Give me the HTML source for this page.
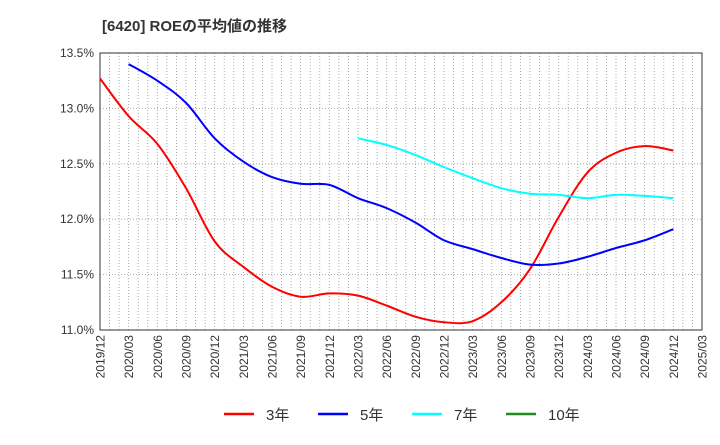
<!DOCTYPE html>
<html><head><meta charset="utf-8"><style>
body{margin:0;background:#fff;font-family:"Liberation Sans","Noto Sans CJK JP",sans-serif;}
svg text{font-family:"Liberation Sans","Noto Sans CJK JP",sans-serif;}
</style></head><body>
<svg id="c" width="720" height="440" xmlns="http://www.w3.org/2000/svg">
<text x="102" y="31" font-size="15" font-weight="bold" fill="#333">[6420]  ROEの平均値の推移</text>
<g id="grid"></g><g id="axes"></g><g id="series"></g><g id="legend"></g>
</svg>
<script>
const xLabels=["2019/12","2020/03","2020/06","2020/09","2020/12","2021/03","2021/06","2021/09","2021/12","2022/03","2022/06","2022/09","2022/12","2023/03","2023/06","2023/09","2023/12","2024/03","2024/06","2024/09","2024/12","2025/03"];
const yTicks=[11.0,11.5,12.0,12.5,13.0,13.5];
const s3=[13.27,12.93,12.68,12.28,11.80,11.57,11.39,11.30,11.33,11.31,11.22,11.12,11.07,11.08,11.25,11.55,12.02,12.42,12.60,12.66,12.62];
const s5=[null,13.40,13.25,13.05,12.73,12.52,12.38,12.32,12.31,12.19,12.10,11.97,11.81,11.73,11.65,11.59,11.60,11.66,11.74,11.81,11.91];
const s7=[null,null,null,null,null,null,null,null,null,12.73,12.67,12.58,12.47,12.37,12.28,12.23,12.22,12.19,12.22,12.21,12.19];
const s10=[];
const L=100,R=702,T=53,B=330;
const X=i=>L+(R-L)*i/21;
const Y=v=>B-(v-11)/2.5*(B-T);
const NS="http://www.w3.org/2000/svg";
function mk(tag,attrs,parent){const e=document.createElementNS(NS,tag);for(const k in attrs)e.setAttribute(k,attrs[k]);document.getElementById(parent).appendChild(e);return e;}
for(let m=1;m<63;m++){const x=L+(R-L)*m/63;const g=mk('line',{x1:x,x2:x,y1:T,y2:B,stroke:'#999','stroke-dasharray':'1,2','stroke-width':0.8},'grid');

}
yTicks.forEach(v=>{const y=Y(v);const g=mk('line',{x1:L,x2:R,y1:y,y2:y,stroke:'#999','stroke-dasharray':'1,2','stroke-width':0.8},'grid');


const t=mk('text',{x:L-6,y:y+4,'text-anchor':'end','font-size':12,fill:'#333'},'axes');t.textContent=v.toFixed(1)+'%';

});
const fr=mk('rect',{x:L,y:T,width:R-L,height:B-T,fill:'none',stroke:'#333'},'axes');


xLabels.forEach((s,i)=>{const x=X(i);const t=mk('text',{x:0,y:0,transform:`translate(${x+4.5},${B+5}) rotate(-90)`,'text-anchor':'end','font-size':12,fill:'#333'},'axes');t.textContent=s;

});
function path(arr){const pts=[];arr.forEach((v,i)=>{if(v!=null)pts.push([X(i),Y(v)]);});if(!pts.length)return'';
let d=`M${pts[0][0]},${pts[0][1]}`;
for(let i=0;i<pts.length-1;i++){const p0=pts[Math.max(0,i-1)],p1=pts[i],p2=pts[i+1],p3=pts[Math.min(pts.length-1,i+2)];
const c1=[p1[0]+(p2[0]-p0[0])/6,p1[1]+(p2[1]-p0[1])/6],c2=[p2[0]-(p3[0]-p1[0])/6,p2[1]-(p3[1]-p1[1])/6];
d+=`C${c1[0]},${c1[1]} ${c2[0]},${c2[1]} ${p2[0]},${p2[1]}`;}return d;}
[[s3,'#f00','series-3yr'],[s5,'#00f','series-5yr'],[s7,'#0ff','series-7yr'],[s10,'#228b22','series-10yr']].forEach(([a,c,n])=>{
const d=path(a);if(!d)return;const p=mk('path',{d:d,fill:'none',stroke:c,'stroke-width':2},'series');

});
[['3年','#f00',224],['5年','#00f',318],['7年','#0ff',412],['10年','#228b22',506]].forEach(([s,c,x])=>{
const g=mk('g',{},'legend');


const l=document.createElementNS(NS,'line');l.setAttribute('x1',x);l.setAttribute('x2',x+30);l.setAttribute('y1',414);l.setAttribute('y2',414);l.setAttribute('stroke',c);l.setAttribute('stroke-width',2.5);g.appendChild(l);
const t=document.createElementNS(NS,'text');t.setAttribute('x',x+42);t.setAttribute('y',420);t.setAttribute('font-size',15);t.setAttribute('fill','#333');t.textContent=s;g.appendChild(t);});
</script>
</body></html>
